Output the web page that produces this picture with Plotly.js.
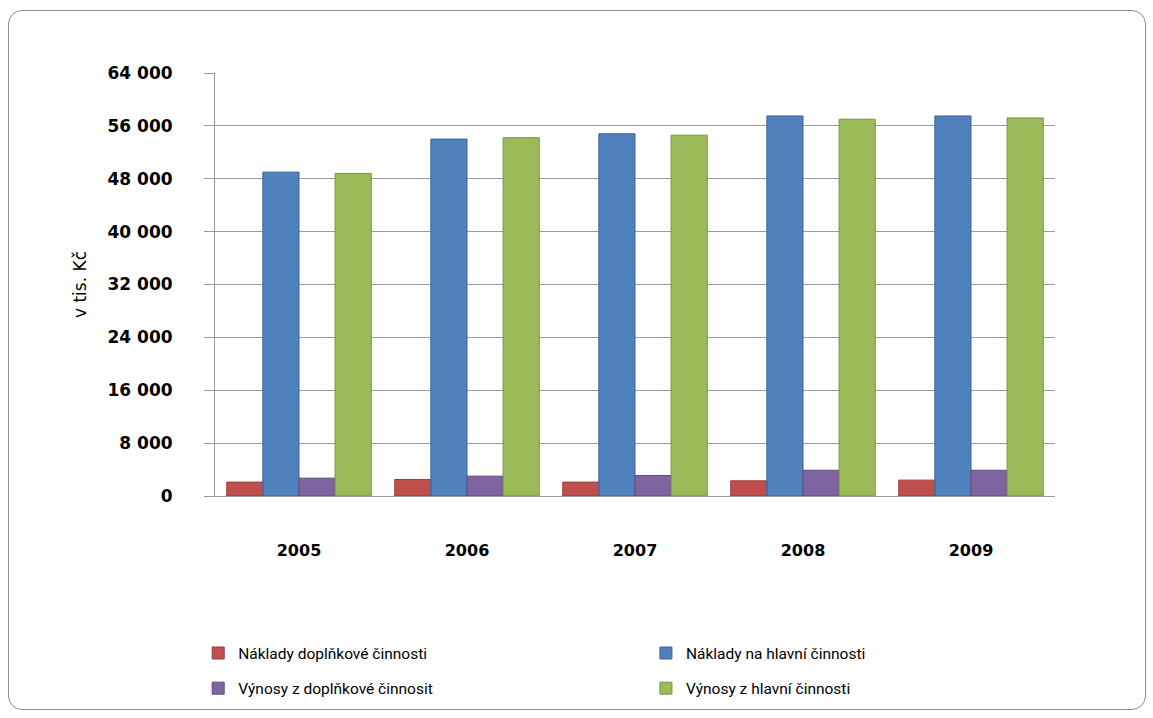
<!DOCTYPE html>
<html>
<head>
<meta charset="utf-8">
<script src="https://cdn.plot.ly/plotly-3.0.1.min.js"></script>
<style>
  html, body { margin: 0; padding: 0; background: #ffffff; }
  #wrap { position: relative; width: 1153px; height: 718px; }
  #chart { position: absolute; left: 0; top: 0; width: 1153px; height: 718px; }
  #frame { position: absolute; left: 8px; top: 10px; width: 1138px; height: 700px;
           border: 1px solid #8c8c8c; border-radius: 14px; pointer-events: none; box-sizing: border-box; }
</style>
</head>
<body>
<div id="wrap">
  <div id="chart"></div>
  <div id="frame"></div>
</div>
<script>
// Categories (years)
const years = ["2005", "2006", "2007", "2008", "2009"];

// Series names
const seriesNames = [
  "Náklady doplňkové činnosti",
  "Náklady na hlavní činnosti",
  "Výnosy z doplňkové činnosit",
  "Výnosy z hlavní činnosti"
];

// Series values (v tis. Kč)
const nakladyDoplnkove = [2100, 2500, 2100, 2300, 2400];
const nakladyHlavni    = [49000, 54000, 54800, 57500, 57500];
const vynosyDoplnkove  = [2700, 3000, 3100, 3900, 3900];
const vynosyHlavni     = [48800, 54200, 54600, 57000, 57200];

// Y axis ticks
const yTickVals = [0, 8000, 16000, 24000, 32000, 40000, 48000, 56000, 64000];
const yTickText = ["0", "8 000", "16 000", "24 000", "32 000", "40 000", "48 000", "56 000", "64 000"];

const colors = ["#C0504D", "#4F81BD", "#8064A2", "#9BBB59"];
const lines  = ["#9B3B38", "#3A6494", "#62497F", "#789342"];
const allValues = [nakladyDoplnkove, nakladyHlavni, vynosyDoplnkove, vynosyHlavni];
const legendOf = ["legend", "legend2", "legend", "legend2"];

const traces = allValues.map((vals, i) => ({
  type: "bar",
  name: seriesNames[i],
  x: years,
  y: vals,
  legend: legendOf[i],
  legendgroup: "g" + i,
  marker: { color: colors[i], line: { color: lines[i], width: 1 } },
  hoverinfo: "x+y+name"
}));

const legendFont = { family: "Roboto, 'Open Sans', sans-serif", size: 15.5, color: "#000000" };

const layout = {
  width: 1153,
  height: 718,
  paper_bgcolor: "#ffffff",
  plot_bgcolor: "#ffffff",
  margin: { l: 215, r: 98, t: 73, b: 222 },
  barmode: "group",
  bargap: 0.14,
  bargroupgap: 0.0,
  separators: ", ",
  font: { family: "'DejaVu Sans', sans-serif", color: "#000000" },
  xaxis: {
    type: "category",
    tickfont: { family: "'DejaVu Sans', sans-serif", size: 16, color: "#000000", weight: "bold" },
    showgrid: false,
    showline: true,
    linecolor: "#9a9a9a",
    linewidth: 1,
    ticks: "",
    ticklabelstandoff: 40
  },
  yaxis: {
    range: [0, 64000],
    tickvals: yTickVals,
    ticktext: yTickText,
    tickfont: { family: "'DejaVu Sans', sans-serif", size: 17, color: "#000000", weight: "bold" },
    showgrid: true,
    gridcolor: "#9a9a9a",
    gridwidth: 1,
    zeroline: true,
    zerolinecolor: "#9a9a9a",
    showline: true,
    linecolor: "#9a9a9a",
    linewidth: 1,
    ticks: "outside",
    ticklen: 10,
    tickcolor: "#9a9a9a",
    ticklabelstandoff: 28,
    title: {
      text: "v tis. Kč",
      font: { family: "'DejaVu Sans', sans-serif", size: 17, color: "#000000" },
      standoff: 16
    }
  },
  legend: {
    orientation: "v",
    x: -0.02,
    xanchor: "left",
    y: -0.332,
    yanchor: "top",
    traceorder: "grouped",
    tracegroupgap: 12,
    font: legendFont,
    itemwidth: 30
  },
  legend2: {
    orientation: "v",
    x: 0.513,
    xanchor: "left",
    y: -0.332,
    yanchor: "top",
    traceorder: "grouped",
    tracegroupgap: 12,
    font: legendFont,
    itemwidth: 30
  },
  showlegend: true
};

Plotly.newPlot("chart", traces, layout, { displayModeBar: false, staticPlot: true });
</script>
</body>
</html>
